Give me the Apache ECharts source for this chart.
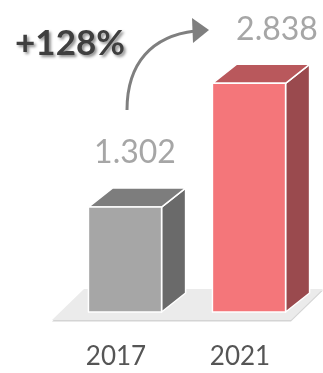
<!DOCTYPE html>
<html>
<head>
<meta charset="utf-8">
<script src="https://cdn.jsdelivr.net/npm/echarts@6/dist/echarts.min.js"></script>
<style>
  html, body { margin: 0; padding: 0; background: #fff; }
  #chart { width: 323px; height: 373px; }
</style>
</head>
<body>
<div id="chart"></div>
<script>
// Values shown on the chart
const years = ['2017', '2021'];
const values = [1.302, 2.838];
const growthLabel = '+128%';

// Face colours for each box: front, top, side
const palettes = [
  { front: '#a6a6a6', top: '#7d7d7d', side: '#6a6a6a' },
  { front: '#f4767a', top: '#b9585c', side: '#9a4a4e' }
];

const FONT = 'Lato, "Open Sans", sans-serif';
const DEPTH_X = 24, DEPTH_Y = 19, SHIFT = 9;
const labelShiftX = [10, 28];

const chart = echarts.init(document.getElementById('chart'), null, { renderer: 'canvas' });

function renderBox(params, api) {
  const i = params.dataIndex;
  const val = api.value(1);
  const base = api.coord([i, 0]);
  const top = api.coord([i, val]);
  const w = api.size([1, 0])[0] * 0.59;
  const cx = base[0] + SHIFT;
  const x0 = cx - w / 2, x1 = cx + w / 2;
  const y0 = top[1], y1 = base[1];
  const p = palettes[i];
  const edge = { stroke: '#ffffff', lineWidth: 1.5, lineJoin: 'round' };
  return {
    type: 'group',
    children: [
      { type: 'polygon', shape: { points: [[x1, y0], [x1 + DEPTH_X, y0 - DEPTH_Y], [x1 + DEPTH_X, y1 - DEPTH_Y], [x1, y1]] },
        style: Object.assign({ fill: p.side }, edge) },
      { type: 'polygon', shape: { points: [[x0, y0], [x0 + DEPTH_X, y0 - DEPTH_Y], [x1 + DEPTH_X, y0 - DEPTH_Y], [x1, y0]] },
        style: Object.assign({ fill: p.top }, edge) },
      { type: 'rect', shape: { x: x0, y: y0, width: w, height: y1 - y0 },
        style: Object.assign({ fill: p.front }, edge) },
      { type: 'text', x: cx + labelShiftX[i], y: y0 - 54,
        style: { text: String(val.toFixed(3)), fill: '#a6a6a6', font: '32px ' + FONT, align: 'center', verticalAlign: 'middle' } }
    ]
  };
}

function renderFloor(params, api) {
  const a = api.coord([0, 0]);
  const b = api.coord([1, 0]);
  const yb = a[1] + 8, yt = a[1] - 23;
  const xl = a[0] - 64, xr = b[0] + 63;
  return {
    type: 'group',
    children: [
      { type: 'polygon', shape: { points: [[xl, yb + 1.5], [xl + 32, yt + 1.5], [xr + 20, yt + 1.5], [xr - 12, yb + 1.5]] },
        style: { fill: '#d4d4d4' } },
      { type: 'polygon', shape: { points: [[xl, yb], [xl + 32, yt], [xr + 20, yt], [xr - 12, yb]] },
        style: { fill: '#ebebeb' } }
    ]
  };
}

chart.setOption({
  animation: false,
  grid: { left: 54, right: 21, top: 30, bottom: 61 },
  xAxis: {
    type: 'category',
    data: years,
    axisLine: { show: false },
    axisTick: { show: false },
    axisLabel: { color: '#555555', fontFamily: 'Lato', fontSize: 26, margin: 32 }
  },
  yAxis: { type: 'value', min: 0, max: 3.5, show: false },
  series: [
    { type: 'custom', renderItem: renderFloor, data: [[0, 0]], silent: true, z: 1 },
    { type: 'custom', renderItem: renderBox, data: values.map((v, i) => [i, v]), z: 2 }
  ],
  graphic: [
    { type: 'bezierCurve', shape: { x1: 127, y1: 110, cpx1: 127, cpy1: 63, cpx2: 152, cpy2: 36, x2: 195, y2: 31 },
      style: { stroke: '#7f7f7f', lineWidth: 3, fill: null } },
    { type: 'polygon', shape: { points: [[192, 18], [209, 30], [193, 43]] }, style: { fill: '#7f7f7f' } },
    { type: 'text', x: 70, y: 44,
      style: { text: growthLabel, font: 'bold 35px ' + FONT, fill: '#3f3f3f', align: 'center', verticalAlign: 'middle',
        textShadowColor: 'rgba(0,0,0,0.45)', textShadowBlur: 3, textShadowOffsetX: 2, textShadowOffsetY: 2 } }
  ]
});
</script>
</body>
</html>
